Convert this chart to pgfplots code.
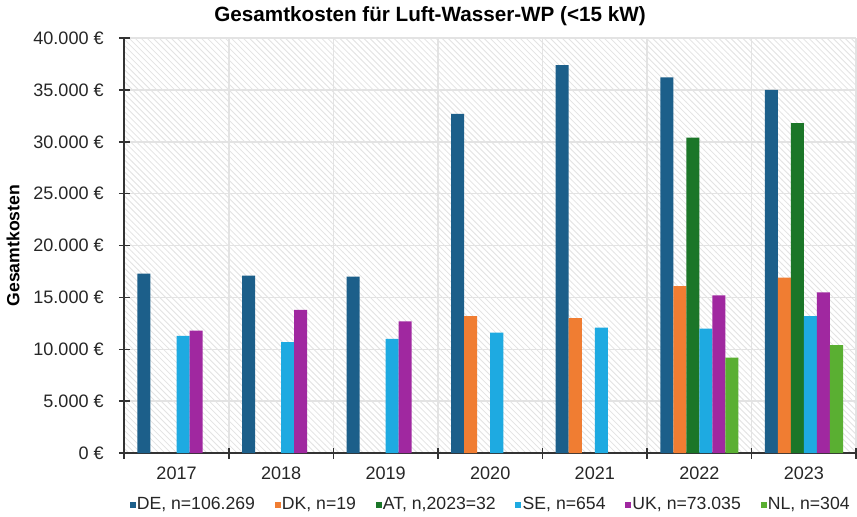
\documentclass[border=0pt]{standalone}
\usepackage{fontspec}
\setmainfont{Liberation Sans}
\usepackage{pgfplots}
\pgfplotsset{compat=1.18}
\usetikzlibrary{patterns}
\definecolor{cDE}{HTML}{1C5F8A}
\definecolor{cDK}{HTML}{F07D32}
\definecolor{cAT}{HTML}{1B7628}
\definecolor{cSE}{HTML}{1EAAE1}
\definecolor{cUK}{HTML}{A028A0}
\definecolor{cNL}{HTML}{5AAF32}
\begin{document}
\begin{tikzpicture}
\begin{axis}[
  scale only axis, width=365pt, height=207pt,
  ybar=0pt, bar width=6.5pt,
  xmin=-0.5, xmax=6.5, ymin=0, ymax=40000,
  xtick={-0.5,0.5,...,6.5}, xticklabels={2017,2018,2019,2020,2021,2022,2023},
  x tick label as interval,
  ytick={0,5000,...,40000},
  yticklabels={0 €,5.000 €,10.000 €,15.000 €,20.000 €,25.000 €,30.000 €,35.000 €,40.000 €},
  scaled y ticks=false,
  axis lines*=left, axis line style={black!80, line width=0.8pt},
  tick align=center, major tick length=5.5pt,
  tick style={black!80, line width=0.8pt},
  grid=major, major grid style={gray!22, line width=0.8pt},
  axis background/.style={fill=white, postaction={pattern=north west lines, pattern color=gray!22}},
  tick label style={font=\fontsize{9}{10}\selectfont, text=black!85},
  yticklabel style={xshift=-4pt},
  xticklabel style={yshift=-0.8pt},
  ylabel={Gesamtkosten}, ylabel style={font=\bfseries\fontsize{8.8}{10}\selectfont},
  title={Gesamtkosten für Luft-Wasser-WP (<15 kW)},
  title style={font=\bfseries\fontsize{10.3}{12}\selectfont, xshift=-30pt, yshift=-3.5pt},
  legend style={at={(axis description cs:0.5,-0.097)}, anchor=north, draw=none,
    inner sep=0pt, outer sep=0pt,
    font=\fontsize{8.8}{10}\selectfont,
    nodes={inner xsep=0.6pt},
    /tikz/every even column/.append style={column sep=9.2pt},
    text=black!85},
  legend columns=6,
  legend image code/.code={\fill[#1] (0pt,-1.5pt) rectangle (3pt,1.5pt);},
]
\addplot[fill=cDE, draw=none] coordinates {(0,17300) (1,17100) (2,17000) (3,32700) (4,37400) (5,36200) (6,35000)};
\addplot[fill=cDK, draw=none] coordinates {(3,13200) (4,13000) (5,16100) (6,16900)};
\addplot[fill=cAT, draw=none] coordinates {(5,30400) (6,31800)};
\addplot[fill=cSE, draw=none] coordinates {(0,11300) (1,10700) (2,11000) (3,11600) (4,12100) (5,12000) (6,13200)};
\addplot[fill=cUK, draw=none] coordinates {(0,11800) (1,13800) (2,12700) (5,15200) (6,15500)};
\addplot[fill=cNL, draw=none] coordinates {(5,9200) (6,10400)};
\legend{DE{,} n=106.269, DK{,} n=19, AT{,} n{,}2023=32, SE{,} n=654, UK{,} n=73.035, NL{,} n=304}
\end{axis}
\end{tikzpicture}
\end{document}
